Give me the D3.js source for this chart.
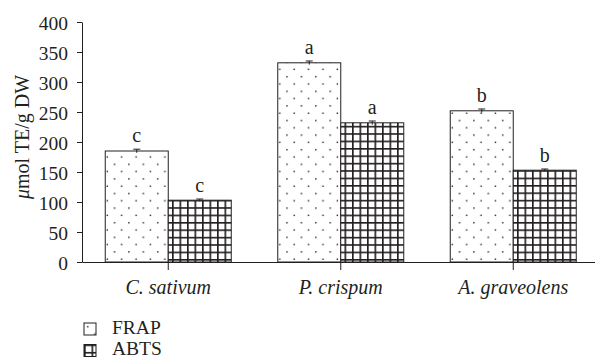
<!DOCTYPE html>
<html>
<head>
<meta charset="utf-8">
<script src="https://cdn.jsdelivr.net/npm/d3@7"></script>
<style>
  body { margin: 0; background: #fff; }
  svg { display: block; font-family: "Liberation Serif", "DejaVu Serif", serif; }
</style>
</head>
<body>
<div id="chart"></div>
<script>
// data
const categories = ['C. sativum', 'P. crispum', 'A. graveolens'];
const seriesNames = ['FRAP', 'ABTS'];
const frapValues = [185, 332, 252];
const abtsValues = [103, 232, 153];
const frapErrors = [3, 3, 3];
const abtsErrors = [2, 3, 2];
const frapLetters = ['c', 'a', 'b'];
const abtsLetters = ['c', 'a', 'b'];
const yTicks = [0, 50, 100, 150, 200, 250, 300, 350, 400];

const ink = '#231f20';
const width = 595, height = 362;
const margin = {top: 22, left: 82};

const svg = d3.select('#chart').append('svg')
    .attr('width', width)
    .attr('height', height);

// patterns
const defs = svg.append('defs');
const dots = defs.append('pattern')
    .attr('id', 'dots')
    .attr('patternUnits', 'userSpaceOnUse')
    .attr('width', 14.4).attr('height', 14.6)
    .attr('x', 0).attr('y', 0);
dots.append('rect').attr('width', 14.4).attr('height', 14.6).attr('fill', '#fff');
dots.append('rect').attr('x', 3).attr('y', 3).attr('width', 1.4).attr('height', 1.4).attr('fill', ink);
dots.append('rect').attr('x', 10.2).attr('y', 10.3).attr('width', 1.4).attr('height', 1.4).attr('fill', ink);

const grid = defs.append('pattern')
    .attr('id', 'grid')
    .attr('patternUnits', 'userSpaceOnUse')
    .attr('width', 7.5).attr('height', 7.4);
grid.append('rect').attr('width', 7.5).attr('height', 7.4).attr('fill', '#fff');
grid.append('path')
    .attr('d', 'M0.8,0V7.4M0,0.8H7.5')
    .attr('stroke', ink).attr('stroke-width', 1.7);

const x = d3.scaleBand()
    .domain(categories)
    .range([margin.left, 599.5])
    .padding(0);
const x1 = d3.scaleBand()
    .domain(seriesNames)
    .range([x.bandwidth() / 2 - 63, x.bandwidth() / 2 + 63]);
const y = d3.scaleLinear()
    .domain([0, 400])
    .range([262, margin.top]);

const rows = categories.map((c, i) => ({
    cat: c,
    vals: [
        {s: 'FRAP', v: frapValues[i], e: frapErrors[i], l: frapLetters[i], fill: 'url(#dots)'},
        {s: 'ABTS', v: abtsValues[i], e: abtsErrors[i], l: abtsLetters[i], fill: 'url(#grid)'}
    ]
}));

const groups = svg.append('g').selectAll('g')
    .data(rows).enter()
    .append('g')
    .attr('transform', d => 'translate(' + x(d.cat) + ',0)');

groups.selectAll('rect')
    .data(d => d.vals).enter()
    .append('rect')
    .attr('x', d => x1(d.s))
    .attr('y', d => y(d.v))
    .attr('width', x1.bandwidth())
    .attr('height', d => y(0) - y(d.v))
    .attr('fill', d => d.fill)
    .attr('stroke', ink)
    .attr('stroke-width', 1);

// error bars
const err = groups.selectAll('g.err')
    .data(d => d.vals).enter()
    .append('g').attr('class', 'err')
    .attr('stroke', ink).attr('stroke-width', 1);
err.append('line')
    .attr('x1', d => x1(d.s) + x1.bandwidth() / 2)
    .attr('x2', d => x1(d.s) + x1.bandwidth() / 2)
    .attr('y1', d => y(d.v - d.e))
    .attr('y2', d => y(d.v + d.e));
err.append('line')
    .attr('x1', d => x1(d.s) + x1.bandwidth() / 2 - 3.5)
    .attr('x2', d => x1(d.s) + x1.bandwidth() / 2 + 3.5)
    .attr('y1', d => y(d.v + d.e))
    .attr('y2', d => y(d.v + d.e));

// significance letters
groups.selectAll('text.sig')
    .data(d => d.vals).enter()
    .append('text').attr('class', 'sig')
    .attr('x', d => x1(d.s) + x1.bandwidth() / 2)
    .attr('y', d => y(d.v + d.e) - 7)
    .attr('text-anchor', 'middle')
    .attr('fill', ink)
    .style('font-size', '20px')
    .text(d => d.l);

// axes
const yAxis = d3.axisLeft(y).tickValues(yTicks).tickSize(5).tickSizeOuter(0);
const gy = svg.append('g')
    .attr('transform', 'translate(' + margin.left + ',0)')
    .call(yAxis);
gy.select('.domain').attr('stroke', ink);
gy.selectAll('.tick line').attr('stroke', ink);
gy.selectAll('.tick text')
    .attr('fill', ink)
    .attr('x', -14)
    .attr('dy', '0.36em')
    .style('font-size', '19.5px')
    .style('font-family', '"Liberation Serif", serif');

const xAxis = d3.axisBottom(x).tickSize(8).tickSizeOuter(0);
const gx = svg.append('g')
    .attr('transform', 'translate(0,262)')
    .call(xAxis);
gx.select('.domain').attr('stroke', ink);
gx.selectAll('.tick line').attr('stroke', ink);
gx.selectAll('.tick text')
    .attr('fill', ink)
    .attr('y', 32)
    .attr('dy', 0)
    .style('font-size', '20px')
    .style('font-style', 'italic')
    .style('font-family', '"Liberation Serif", serif');

// y label
const yl = svg.append('text')
    .attr('transform', 'translate(29,137) rotate(-90)')
    .attr('text-anchor', 'middle')
    .attr('fill', ink)
    .style('font-size', '20px');
yl.append('tspan').style('font-style', 'italic').text('μ');
yl.append('tspan').text('mol TE/g DW');

// legend
const legend = svg.append('g').selectAll('g')
    .data(seriesNames).enter()
    .append('g')
    .attr('transform', (d, i) => 'translate(84,' + (323 + i * 21.5) + ')');
legend.append('rect')
    .attr('width', 12).attr('height', 12)
    .attr('fill', (d, i) => i === 0 ? 'url(#dots)' : 'url(#grid)')
    .attr('stroke', ink).attr('stroke-width', 1);
legend.append('text')
    .attr('x', 28).attr('y', 10.5)
    .attr('fill', ink)
    .style('font-size', '19.5px')
    .text(d => d);
</script>
</body>
</html>
